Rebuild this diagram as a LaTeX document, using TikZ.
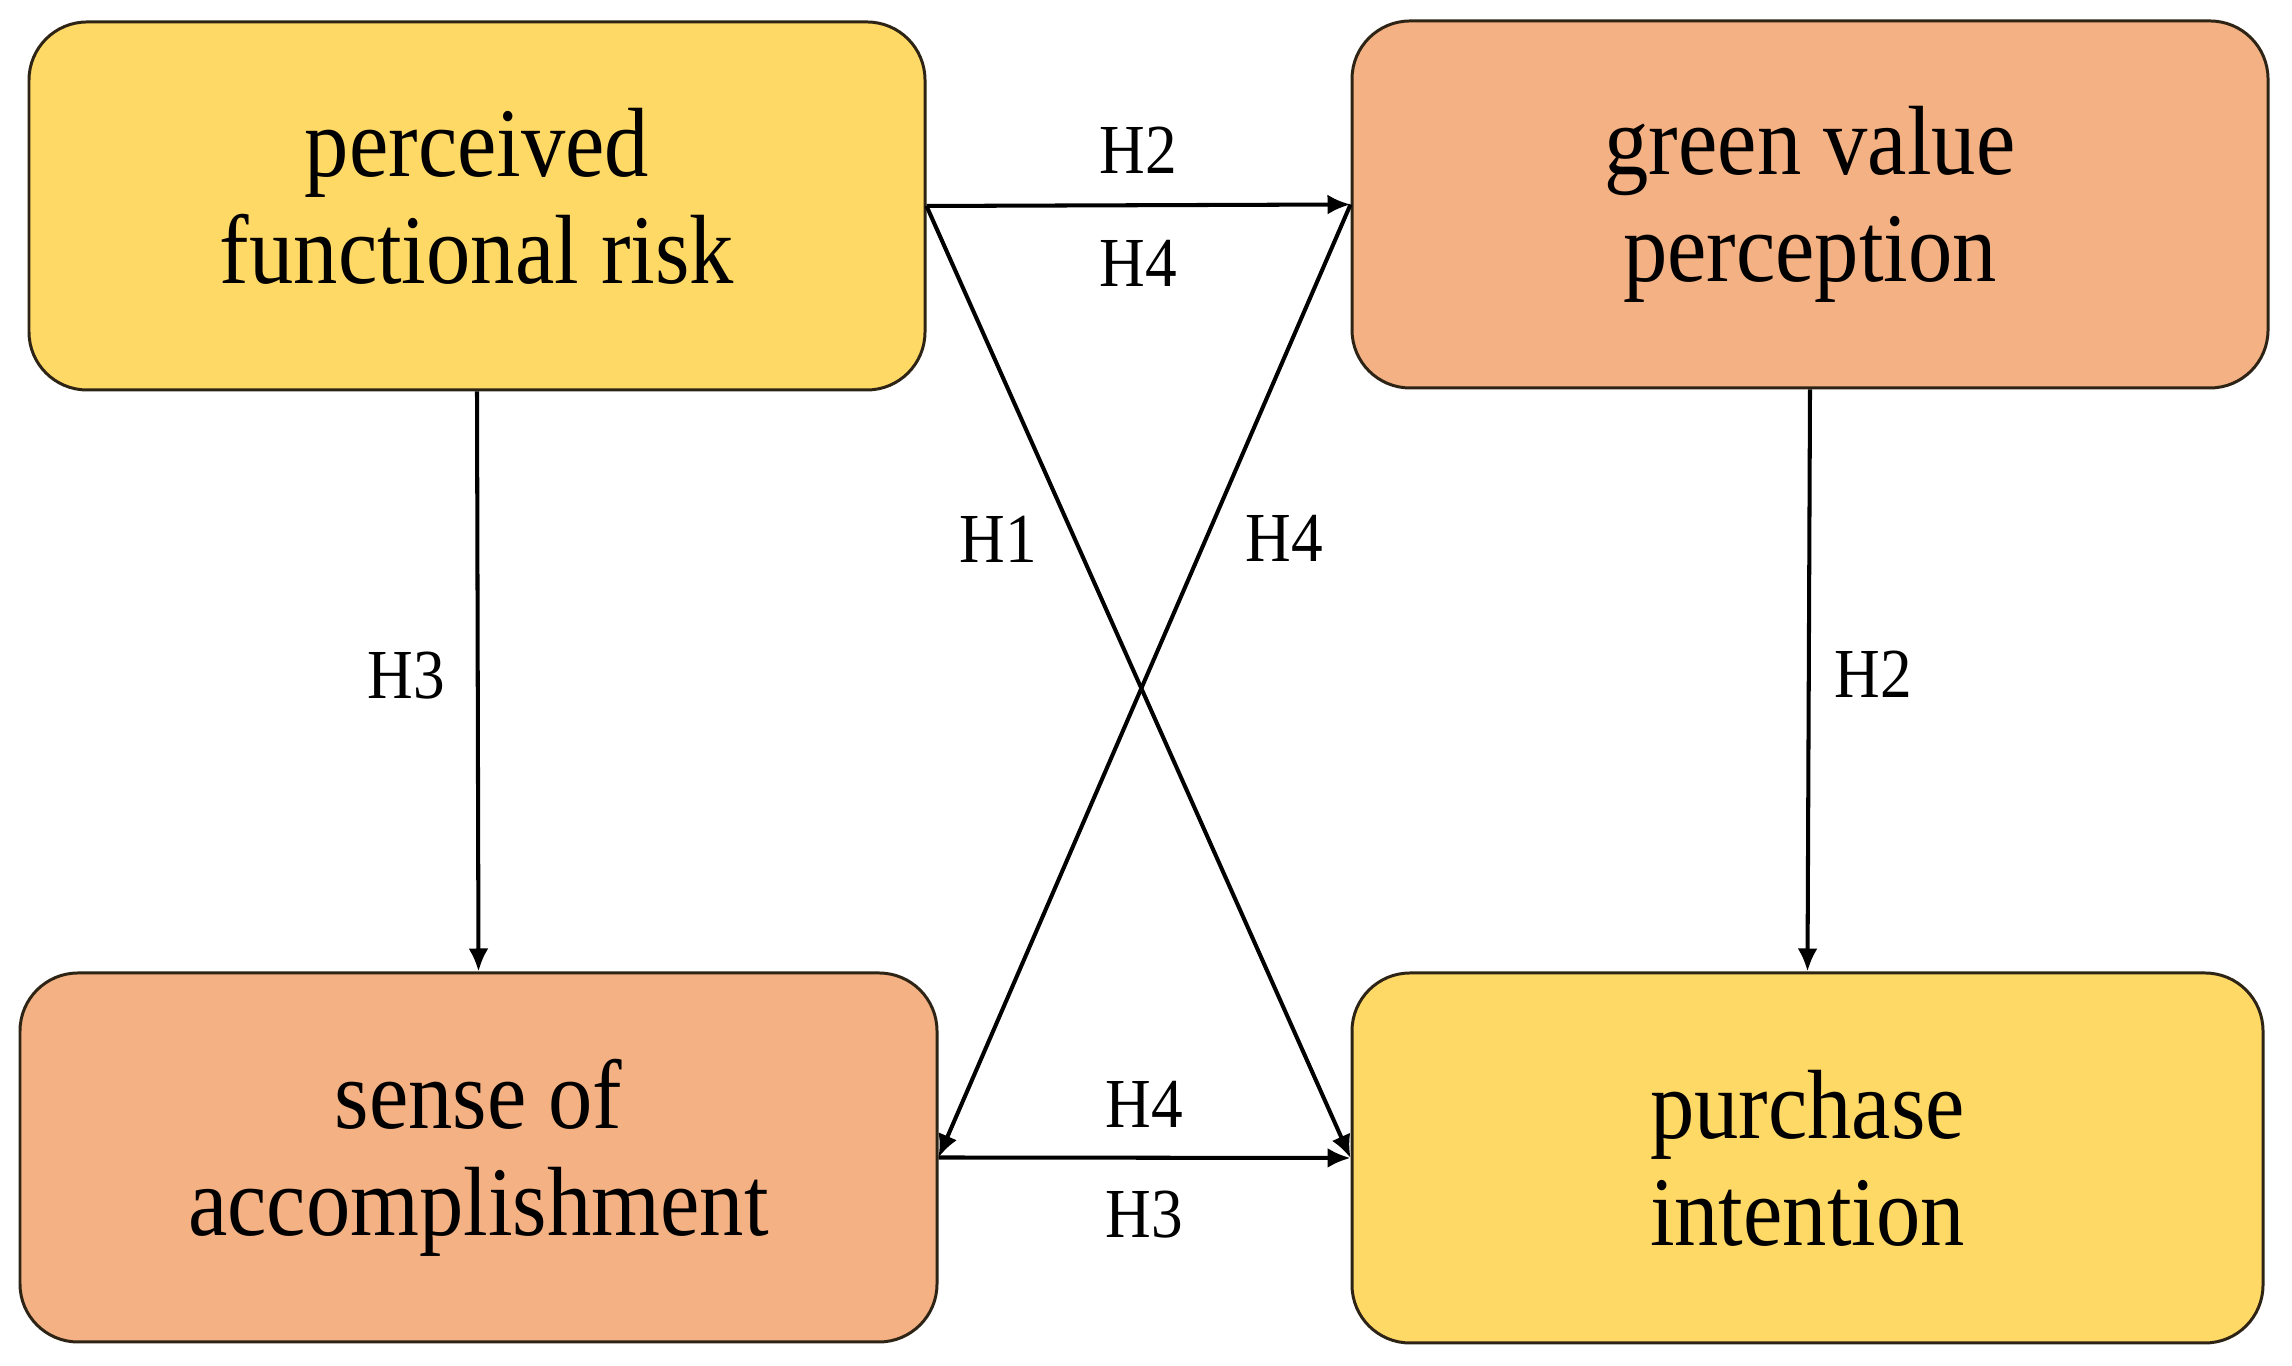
\documentclass[tikz,border=0pt]{standalone}
\usepackage{fontspec}
\setmainfont{Liberation Serif}[FakeStretch=0.9]
\usetikzlibrary{arrows.meta}
\definecolor{boxyellow}{HTML}{FFD966}
\definecolor{boxorange}{HTML}{F4B183}
\definecolor{boxline}{HTML}{2E2416}

\begin{document}
\begin{tikzpicture}[scale = 1.0, transform shape]
    \useasboundingbox (0,0) rectangle (22.92,13.66);
    \tikzstyle{BoxStyle}=[draw=boxline,line width=0.85pt,rounded corners=0.58cm,
                          align=center,inner sep=0pt,
                          font=\fontsize{28}{30.5}\selectfont]
    \tikzstyle{YellowBox}=[BoxStyle,fill=boxyellow]
    \tikzstyle{OrangeBox}=[BoxStyle,fill=boxorange]
    \tikzstyle{EdgeStyle}=[-{Latex[length=0.23cm,width=0.2cm]},line width=1.15pt]
    \tikzstyle{LabelStyle}=[inner sep=0pt,font=\fontsize{20}{24}\selectfont]
    \node[YellowBox,minimum width=8.96cm,minimum height=3.68cm] (pfr) at (4.77,11.60) {perceived\\functional risk\vphantom{p}};
    \node[OrangeBox,minimum width=9.16cm,minimum height=3.67cm] (gvp) at (18.10,11.615) {green value\\perception};
    \node[OrangeBox,minimum width=9.17cm,minimum height=3.69cm] (sac) at (4.785,2.085) {sense of\\accomplishment};
    \node[YellowBox,minimum width=9.11cm,minimum height=3.70cm] (pin) at (18.075,2.08) {purchase\\intention};
    \draw[EdgeStyle] (pfr.east) -- node[LabelStyle,above=0.30cm]{H2}
                                   node[LabelStyle,below=0.33cm]{H4} (gvp.west);
    \draw[EdgeStyle] (sac.east) -- node[LabelStyle,above=0.28cm]{H4}
                                   node[LabelStyle,below=0.31cm]{H3} (pin.west);
    \draw[EdgeStyle] (pfr.east) -- node[LabelStyle,pos=0.35,left=0.36cm]{H1} (pin.west);
    \draw[EdgeStyle] (gvp.west) -- node[LabelStyle,pos=0.35,right=0.37cm]{H4} (sac.east);
    \draw[EdgeStyle] (pfr.south) -- node[LabelStyle,pos=0.49,left=0.31cm]{H3} (sac.north);
    \draw[EdgeStyle] (gvp.south) -- node[LabelStyle,pos=0.49,right=0.24cm]{H2} (pin.north);
\end{tikzpicture}
\end{document}
